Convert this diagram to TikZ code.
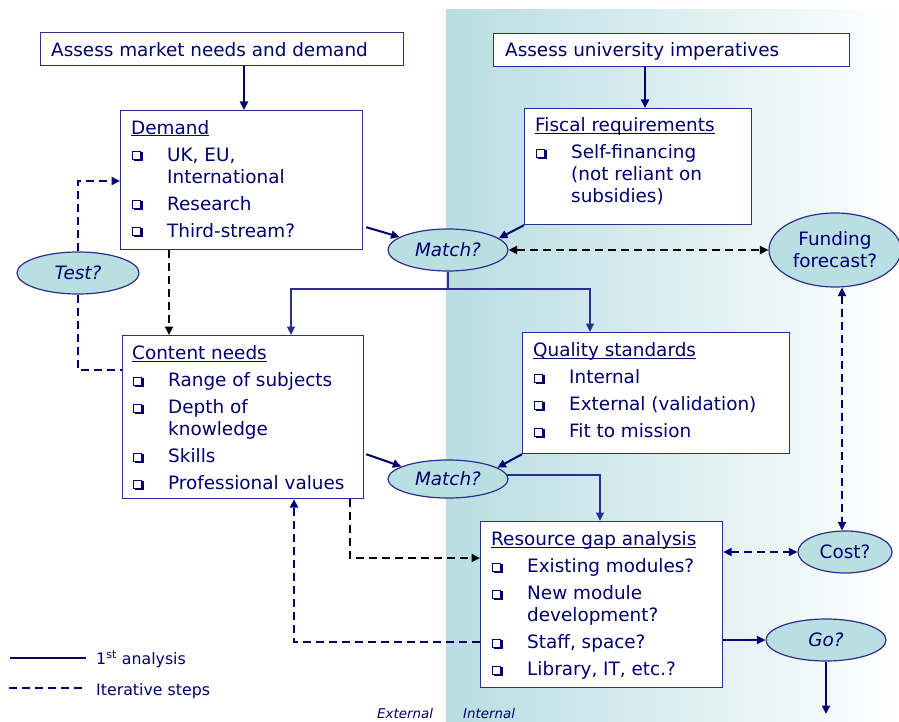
\documentclass[tikz,border=0pt]{standalone}
\usepackage{fontspec}
\setmainfont{DejaVu Sans}
\usetikzlibrary{arrows.meta,shapes.geometric,calc}
\definecolor{txt}{RGB}{0,0,110}
\definecolor{bord}{RGB}{45,45,140}
\definecolor{elf}{RGB}{186,223,227}
\definecolor{bgt}{RGB}{184,221,226}
\definecolor{arrc}{RGB}{0,0,110}
\newcommand{\ulx}[1]{\setbox0\hbox{#1}\makebox[0pt][l]{\raisebox{-2.2pt}{\rule{\wd0}{1pt}}}\box0}
\newcommand{\mybul}{\raisebox{2pt}{\makebox[0pt][l]{\kern2pt\raisebox{-2pt}{\color{txt}\rule{9pt}{9pt}}}{\setlength{\fboxsep}{0pt}\setlength{\fboxrule}{1pt}\fcolorbox{txt}{white}{\rule{0pt}{7pt}\rule{7pt}{0pt}}}}}
\newcommand{\myitem}[1]{\makebox[36pt][l]{\kern1pt\mybul}#1}
\newcommand{\mycont}[1]{\hspace*{36pt}#1}
\tikzset{
  box/.style={draw=bord, line width=1.2pt, fill=white, anchor=north west, inner sep=0pt},
  btxt/.style={anchor=north west, inner sep=0pt, align=left, text=txt, font=\fontsize{18.4}{22}\selectfont},
  ltxt/.style={anchor=base west, inner sep=0pt, text=txt, font=\fontsize{18.4}{22}\selectfont},
  oval/.style={ellipse, draw=bord, line width=1.2pt, fill=elf, inner sep=0pt, text=txt, font=\fontsize{18.4}{22}\selectfont, align=center},
  arrone/.style={-{Triangle[length=8.5pt,width=8pt]}},
  arrtwo/.style={{Triangle[length=8.5pt,width=8pt]}-{Triangle[length=8.5pt,width=8pt]}},
  sarr/.style={draw=arrc, line width=2pt, arrone},
  tline/.style={draw=bord, line width=1.3pt},
  bdash/.style={draw=black, line width=2pt, dash pattern=on 8pt off 5pt},
  ndash/.style={draw=arrc, line width=2pt, dash pattern=on 8pt off 5pt},
  legtxt/.style={anchor=base west, inner sep=0pt, text=txt, font=\fontsize{15.8}{19}\selectfont},
  sidetxt/.style={anchor=base west, inner sep=0pt, text=txt, font=\fontsize{13.4}{16}\selectfont\itshape}
}
\begin{document}
\begin{tikzpicture}[x=1pt,y=-1pt]
\useasboundingbox (0,0) rectangle (899,722);
\fill[white] (0,0) rectangle (899,722);
\shade[left color=bgt, right color=white] (446,10) rectangle (899,722);

% boxes
\node[box, minimum width=363pt, minimum height=33pt] (amn) at (40,32) {};
\node[ltxt] (amnT) at (51,57) {Assess market needs and demand};
\node[box, minimum width=356pt, minimum height=33pt] (aui) at (493,33) {};
\node[ltxt] (auiT) at (505,57) {Assess university imperatives};

\node[box, minimum width=242pt, minimum height=139pt] (dem) at (120,110) {};
\node[btxt] (demT) at (131,120) {\ulx{Demand}\\[5pt]\myitem{UK, EU,}\\ \mycont{International}\\[5pt]\myitem{Research}\\[5pt]\myitem{Third-stream?}};

\node[box, minimum width=227pt, minimum height=116pt] (fis) at (524,108) {};
\node[btxt] (fisT) at (535,117.5) {\ulx{Fiscal requirements}\\[5pt]\myitem{Self-financing}\\ \mycont{(not reliant on}\\ \mycont{subsidies)}};

\node[box, minimum width=241pt, minimum height=163pt] (con) at (122,335) {};
\node[btxt] (conT) at (132,345.5) {\ulx{Content needs}\\[5pt]\myitem{Range of subjects}\\[5pt]\myitem{Depth of}\\ \mycont{knowledge}\\[5pt]\myitem{Skills}\\[5pt]\myitem{Professional values}};

\node[box, minimum width=267pt, minimum height=121pt] (qua) at (522,332) {};
\node[btxt] (quaT) at (533,342.5) {\ulx{Quality standards}\\[5pt]\myitem{Internal}\\[5pt]\myitem{External (validation)}\\[5pt]\myitem{Fit to mission}};

\node[box, minimum width=242pt, minimum height=166pt] (res) at (480,521) {};
\node[btxt] (resT) at (491,531.5) {\ulx{Resource gap analysis}\\[5pt]\myitem{Existing modules?}\\[5pt]\myitem{New module}\\ \mycont{development?}\\[5pt]\myitem{Staff, space?}\\[5pt]\myitem{Library, IT, etc.?}};

% ellipses
\node[oval, minimum width=120pt, minimum height=42pt] (m1) at (448,250) {\itshape Match?};
\node[oval, minimum width=122pt, minimum height=42pt] (tst) at (78,273) {\itshape Test?};
\node[oval, minimum width=132pt, minimum height=74pt] (fund) at (835,250) {Funding\\forecast?};
\node[oval, minimum width=120pt, minimum height=38pt] (m2) at (448,479) {\itshape Match?};
\node[oval, minimum width=94pt, minimum height=42pt] (cst) at (845,552) {Cost?};
\node[oval, minimum width=120pt, minimum height=42pt] (go) at (826,640) {\itshape Go?};

% solid connectors
\draw[sarr] (244,0 |- amn.south) -- (244,0 |- dem.north);
\draw[sarr] (645,0 |- aui.south) -- (645,0 |- fis.north);
\draw[sarr] ([shift={(3pt,23pt)}]dem.south east) -- (m1.165);
\draw[sarr] (fis.south west) -- (m1.13);
\draw[sarr] ([shift={(2pt,45pt)}]con.south east) -- (m2.165);
\draw[sarr] (qua.south west) -- (m2.13);
\coordinate (sp) at (448,289);
\draw[tline] (m1.south) -- (sp);
\draw[tline, arrone] (sp) -| (291,0 |- con.north);
\draw[tline, arrone] (sp) -| (590,0 |- qua.north);
\draw[tline, arrone] (m2.4) -| (600,0 |- res.north);
\draw[sarr] (res.east |- go.west) -- (go.west);
\coordinate (gend) at (826,714);
\draw[sarr] (go.south) -- (gend);

% dashed connectors
\draw[bdash, arrone] (169,0 |- dem.south) -- (169,0 |- con.north);
\draw[ndash, arrone] (tst.north) |- (0,181 -| dem.west);
\draw[ndash] (tst.south) |- (0,370 -| con.west);
\draw[bdash, arrone] (350,0 |- con.south) |- (0,558 -| res.west);
\draw[ndash, arrone] (0,642 -| res.west) -| (294,0 |- con.south);
\draw[ndash, arrtwo] (res.east |- cst.west) -- (cst.west);
\draw[ndash, arrtwo] (842,0 |- fund.south) -- (842,0 |- cst.north);
\draw[bdash, arrtwo] (m1.east) -- (fund.west);

% legend
\coordinate (l1a) at (10,658);
\coordinate (l1b) at (86,658);
\draw[draw=arrc, line width=1.3pt] (l1a) -- (l1b);
\node[legtxt] (leg1) at (96,664) {1\textsuperscript{st} analysis};
\coordinate (l2a) at (9,688);
\coordinate (l2b) at (84,688);
\draw[ndash] (l2a) -- (l2b);
\node[legtxt] (leg2) at (96,695) {Iterative steps};
\node[sidetxt] (ext) at (377,718) {External};
\node[sidetxt] (int) at (463,718) {Internal};
\end{tikzpicture}
\end{document}
